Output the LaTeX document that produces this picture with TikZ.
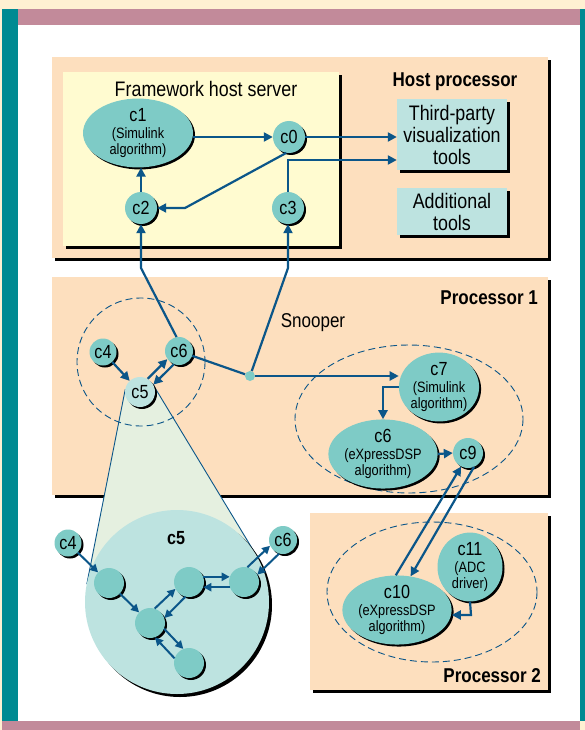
\documentclass[tikz,border=0pt]{standalone}
\usepackage{fontspec}
\setmainfont{Liberation Sans}[FakeStretch=0.85]
\usetikzlibrary{arrows.meta,shadows,shapes.geometric,calc}
\definecolor{cream}{HTML}{FFF0D2}
\definecolor{barpink}{HTML}{C28A9A}
\definecolor{barteal}{HTML}{008A92}
\definecolor{peach}{HTML}{FDDFBE}
\definecolor{paleyellow}{HTML}{FFFBD0}
\definecolor{nodeteal}{HTML}{7ECBC6}
\definecolor{lightteal}{HTML}{BDE3E0}
\definecolor{conegreen}{HTML}{E5F0E0}
\definecolor{linkblue}{HTML}{0B5689}
\newcommand\fsBig{\fontsize{19}{19}\selectfont}
\newcommand\fsSmall{\fontsize{15}{15.5}\selectfont}
\newcommand\fsTool{\fontsize{21}{22}\selectfont}
\newcommand\fsTitle{\fontsize{20}{20}\selectfont}
\tikzset{
  shad/.style={drop shadow={shadow xshift=#1,shadow yshift=-#1,opacity=1,fill=black}},
  shad/.default=2pt,
  panel/.style={fill=peach,shad=3pt,inner sep=0,anchor=north west},
  toolbox/.style={fill=lightteal,shad=3pt,inner sep=0,align=center,font=\fsTool},
  cnode/.style={circle,fill=nodeteal,shad,inner sep=0,minimum size=#1,font=\fsBig},
  cnode/.default=32,
  enode/.style={ellipse,fill=nodeteal,shad,inner sep=0,align=center,font=\fsSmall},
  arr/.style={draw=linkblue,line width=2.2pt,-{Triangle[length=9pt,width=9pt]}},
  sarr/.style={draw=linkblue,line width=2pt,-{Triangle[length=8pt,width=8pt]}},
  link/.style={draw=linkblue,line width=2.2pt},
  dashring/.style={draw=linkblue,line width=0.9pt,dash pattern=on 7pt off 4pt},
  title/.style={font=\fsTitle\bfseries,inner sep=0},
}
\begin{document}
\begin{tikzpicture}[x=1pt,y=-1pt]
\useasboundingbox (0,0) rectangle (585,730);
% frame
\fill[cream] (0,0) rectangle (585,730);
\fill[barteal] (2,9) rectangle (18,721);
\fill[barteal] (580,9) rectangle (585,721);
\fill[barpink] (18,9) rectangle (580,25);
\fill[white] (18,25) rectangle (580,721);
\fill[barpink] (2,721) rectangle (580,730);

% host processor
\node[panel,minimum width=496,minimum height=201] (host) at (52,57) {};
\node[fill=paleyellow,shad=3pt,inner sep=0,anchor=north west,minimum width=276,minimum height=174] (fw) at (63,72) {};
\node[font=\fontsize{21}{21}\selectfont,inner sep=0] (fwt) at (206,89) {Framework host server};
\node[title] (hostt) at (455,82) {Host processor};
\node[toolbox,minimum width=110,minimum height=71] (third) at (452,134.5) {Third-party\\visualization\\tools};
\node[toolbox,minimum width=110,minimum height=47] (addt) at (452,211.5) {Additional\\tools};

\node[enode,minimum width=110,minimum height=50] (c1) at (138,133) {{\fsBig c1}\\[1.5pt](Simulink\\algorithm)};
\node[cnode] (c0) at (289,137) {c0};
\node[cnode] (c2) at (141,208) {c2};
\node[cnode] (c3) at (288,208) {c3};

% processor 1
\node[panel,minimum width=496,minimum height=218] (p1) at (52,277) {};
\node[title,anchor=east] (p1t) at (538,298) {Processor 1};
\node[font=\fontsize{20}{20}\selectfont,inner sep=0] (snt) at (313,323) {Snooper};

% processor 2
\node[panel,minimum width=238,minimum height=177] (p2) at (310,513) {};
\node[title,anchor=east] (p2t) at (541,676) {Processor 2};

% cone
\coordinate (t1) at (125.3,389.1);
\coordinate (t2) at (86.8,584.1);
\coordinate (t3) at (152.8,384.2);
\coordinate (t4) at (255.7,554.3);
\coordinate (bc) at (177,602);
\fill[conegreen] (t1) -- (t2) -- (bc) -- (t4) -- (t3) -- cycle;
\draw[linkblue,line width=0.9pt] (t1) -- (t2) (t3) -- (t4);

\draw[dashring] (141,362) circle[radius=64];
\draw[dashring] (409,419) ellipse[x radius=114,y radius=74];
\draw[dashring] (432,592) ellipse[x radius=105,y radius=70];

\node[cnode=27] (c4) at (103,352) {c4};
\node[cnode=28] (c6) at (179,351) {c6};
\node[cnode=30,fill=lightteal] (c5) at (140,392) {c5};
\node[circle,fill=nodeteal,inner sep=0,minimum size=10] (snoop) at (250,376) {};

\node[enode,minimum width=76,minimum height=60] (c7) at (439,387) {{\fsBig c7}\\[1.5pt](Simulink\\algorithm)};
\node[enode,minimum width=90,minimum height=58] (c6b) at (383,454) {{\fsBig c6}\\[1.5pt](eXpressDSP\\algorithm)};
\node[cnode=30] (c9) at (468,453) {c9};
\node[enode,minimum width=90,minimum height=56] (c10) at (397,610) {{\fsBig c10}\\[1.5pt](eXpressDSP\\algorithm)};
\node[enode,minimum width=65,minimum height=68] (c11) at (470,567) {{\fsBig c11}\\[1.5pt](ADC\\driver)};

% big c5 detail
\node[circle,fill=lightteal,shad=3pt,inner sep=0,minimum size=184] (big) at (177,602) {};
\node[title,font=\fontsize{19}{19}\selectfont\bfseries] (bigt) at (176,538) {c5};
\node[cnode=30] (n1) at (109,583) {};
\node[cnode=30] (n2) at (150,623) {};
\node[cnode=30] (n3) at (189,582) {};
\node[cnode=30] (n4) at (244,582) {};
\node[cnode=30] (n5) at (189,663) {};
\node[cnode=27] (c4z) at (68,543) {c4};
\node[cnode=28] (c6z) at (283,540) {c6};

% host connectors
\draw[arr] (c0 -| c1.east) -- (c0.west);
\coordinate (b1) at (185,208);
\draw[arr] (c0.260) -- (b1) -- (c2.east);
\draw[arr] (c2.north) -- (c2.north |- c1.south);
\draw[arr] (c0.east) -- (c0.east -| third.west);
\coordinate (b2) at (288,160);
\draw[arr] (c3.north) -- (b2) -- (b2 -| third.west);

% processor 1 connectors
\coordinate (b3) at (141,268);
\draw[arr] (c6.100) -- (b3) -- (c2.south);
\draw[link] (c6.340) -- (snoop);
\coordinate (b4) at (288,268);
\draw[arr] (snoop) -- (b4) -- (c3.south);
\draw[arr] (snoop) -- (snoop -| c7.west);
\draw[arr] (c4) -- (c5);
\draw[arr] (c5.60) -- (c6.215);
\draw[arr] (c6.249) -- (c5.29);
\draw[arr] (c7.west) -| (c6b.north);
\draw[arr] (c6b.east) -- (c9.west);

% processor 2 connectors
\draw[arr] (c10.92) -- (c9.243);
\draw[arr] (c9.293) -- (c10.68);
\coordinate (b5) at (471,615);
\draw[arr] (c11.south) -- (b5) -- (b5 -| c10.east);

% detail connectors
\draw[sarr] (c4z) -- (n1);
\draw[sarr] (n1) -- (n2);
\draw[sarr] (n2.72) -- (n3.207);
\draw[sarr] (n3.256) -- (n2.19);
\draw[sarr] (n3.20) -- (n4.160);
\draw[sarr] (n4.200) -- (n3.340);
\draw[sarr] (n4.77) -- (c6z.204);
\draw[sarr] (c6z.254) -- (n4.29);
\draw[sarr] (n2.338) -- (n5.112);
\draw[sarr] (n5.162) -- (n2.289);
\end{tikzpicture}
\end{document}
